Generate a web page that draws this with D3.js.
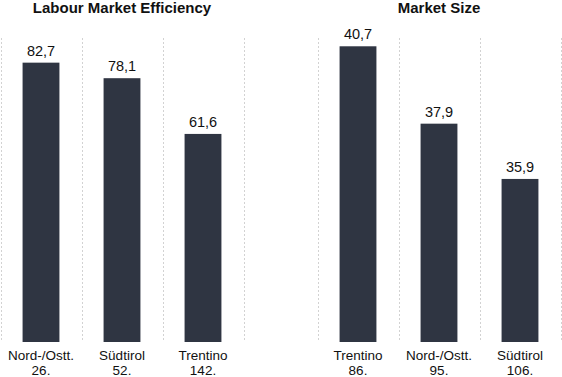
<!DOCTYPE html>
<html>
<head>
  <meta charset='utf-8'>
  <title>ranking bars</title>
  <script src="https://cdnjs.cloudflare.com/ajax/libs/d3/7.8.5/d3.min.js"></script>
  <style>
    html, body {
      margin: 0;
      padding: 0;
      background: #fff;
    }
    svg text {
      font-family: "Liberation Sans", Arial, sans-serif;
      fill: #111;
    }
  </style>
</head>
<body>
<div id="chart"></div>
<script>
// left panel
const effTitle = "Labour Market Efficiency"
const effRegions = ["Nord-/Ostt.", "Südtirol", "Trentino"]
const effValues = [82.7, 78.1, 61.6]
const effRanks = ["26.", "52.", "142."]
const effDomain = [0, 90]

// right panel
const sizeTitle = "Market Size"
const sizeRegions = ["Trentino", "Nord-/Ostt.", "Südtirol"]
const sizeValues = [40.7, 37.9, 35.9]
const sizeRanks = ["86.", "95.", "106."]
const sizeDomain = [30, 41]

const width = 562, height = 377
const plotTop = 38, plotBottom = 342

const svg = d3.select("#chart").append("svg")
  .attr("width", width)
  .attr("height", height)

const fmt = v => d3.format(".1f")(v).replace(".", ",")

function panel(x0, x1, title, regions, values, ranks, domain) {
  const g = svg.append("g")

  const x = d3.scaleBand()
    .domain(regions)
    .range([x0, x1])
    .paddingInner(0.545)
    .paddingOuter(0.2725)

  const y = d3.scaleLinear()
    .domain(domain)
    .range([plotBottom, plotTop])

  // dotted separators between the bands
  const step = x.step()
  const seps = d3.range(regions.length + 1).map(i => x0 + i * step)
  g.selectAll(".sep")
    .data(seps)
    .join("line")
      .attr("x1", d => Math.round(d) + 0.5)
      .attr("x2", d => Math.round(d) + 0.5)
      .attr("y1", plotTop)
      .attr("y2", plotBottom - 2)
      .attr("stroke", "#d2d2d2")
      .attr("stroke-width", 1)
      .attr("stroke-dasharray", "2,2")

  g.selectAll(".bar")
    .data(values)
    .join("rect")
      .attr("x", (d, i) => x(regions[i]))
      .attr("y", d => y(d))
      .attr("width", x.bandwidth())
      .attr("height", d => plotBottom - y(d))
      .attr("fill", "#2f3542")

  g.selectAll(".val")
    .data(values)
    .join("text")
      .attr("x", (d, i) => x(regions[i]) + x.bandwidth() / 2)
      .attr("y", d => y(d) - 7)
      .attr("text-anchor", "middle")
      .attr("font-size", 14.5)
      .text(d => fmt(d))

  const lbl = g.selectAll(".lbl")
    .data(regions)
    .join("text")
      .attr("x", d => x(d) + x.bandwidth() / 2)
      .attr("y", 360)
      .attr("text-anchor", "middle")
      .attr("font-size", 13.5)
  lbl.append("tspan").text(d => d)
  lbl.append("tspan")
    .attr("x", d => x(d) + x.bandwidth() / 2)
    .attr("dy", 15)
    .text((d, i) => ranks[i])

  g.append("text")
    .attr("x", (x0 + x1) / 2)
    .attr("y", 13)
    .attr("text-anchor", "middle")
    .attr("font-size", 15)
    .attr("font-weight", "bold")
    .text(title)
}

panel(0.5, 243.5, effTitle, effRegions, effValues, effRanks, effDomain)
panel(317.5, 560.5, sizeTitle, sizeRegions, sizeValues, sizeRanks, sizeDomain)
</script>
</body>
</html>
